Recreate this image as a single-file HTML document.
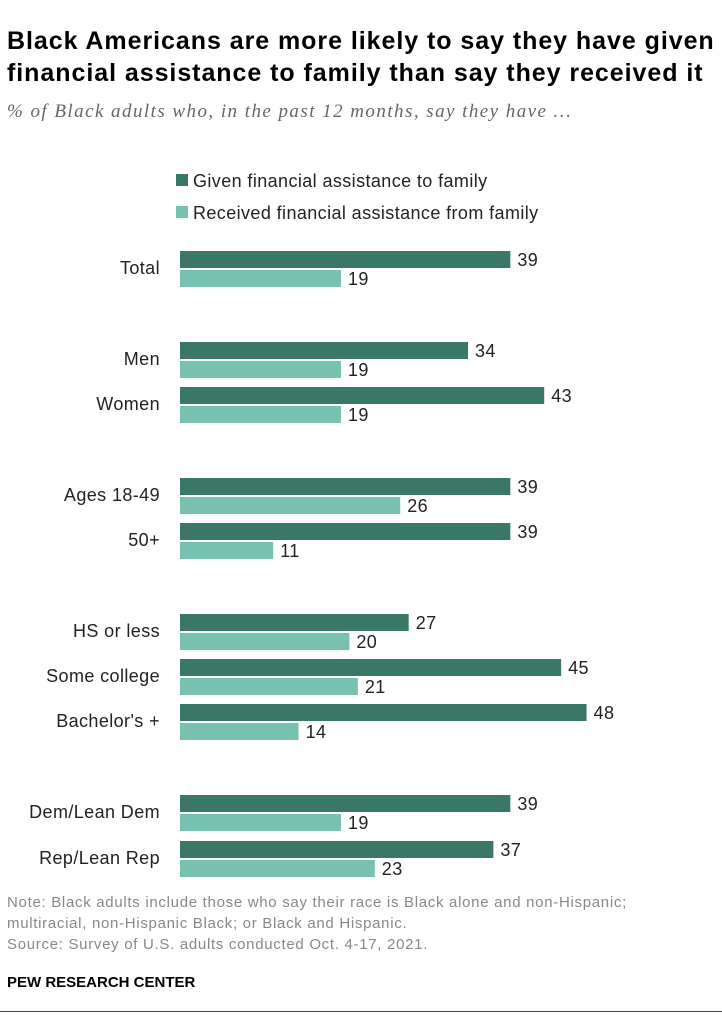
<!DOCTYPE html>
<html><head><meta charset="utf-8"><style>
body{margin:0;width:722px;height:1024px;background:#fff;font-family:"Liberation Sans",sans-serif;position:relative;overflow:hidden}
.t{position:absolute;left:7px;top:25px;font-size:25px;font-weight:bold;line-height:32px;color:#000;letter-spacing:0.95px;white-space:nowrap}
.s{position:absolute;left:7px;top:101px;font-size:19px;font-style:italic;color:#666;font-family:"Liberation Serif",serif;letter-spacing:1.45px;white-space:nowrap}
.n{position:absolute;left:7px;top:892px;font-size:15px;color:#888;line-height:21px;letter-spacing:0.7px;white-space:nowrap}
.p{position:absolute;left:7px;top:974px;font-size:15px;font-weight:bold;color:#000}
.hr{position:absolute;left:0;top:1011px;width:722px;height:1px;background:#444}
svg text{letter-spacing:0.4px}
</style></head><body>
<div class="t">Black Americans are more likely to say they have given<br>financial assistance to family than say they received it</div>
<div class="s">% of Black adults who, in the past 12 months, say they have …</div>
<svg id="c" width="722" height="1024" style="position:absolute;left:0;top:0"></svg>
<div class="n">Note: Black adults include those who say their race is Black alone and non-Hispanic;<br>multiracial, non-Hispanic Black; or Black and Hispanic.<br>Source: Survey of U.S. adults conducted Oct. 4-17, 2021.</div>
<div class="p">PEW RESEARCH CENTER</div>
<div class="hr"></div>
<script>
const categories=["Total","Men","Women","Ages 18-49","50+","HS or less","Some college","Bachelor's +","Dem/Lean Dem","Rep/Lean Rep"];
const given=[39,34,43,39,39,27,45,48,39,37];
const received=[19,19,19,26,11,20,21,14,19,23];
const rowTops=[251,342,387,478,523,614,659,704,795,841];
const NS="http://www.w3.org/2000/svg";
const svg=document.getElementById('c');
const x0=180,scale=8.47;
const xs=v=>v*scale;
function mk(tag,attrs){const e=document.createElementNS(NS,tag);for(const k in attrs)e.setAttribute(k,attrs[k]);svg.appendChild(e);return e;}
let l1=mk('rect',{x:176,y:174,width:12,height:12,fill:'#3a7767'});


let lt1=mk('text',{x:193,y:187,'font-size':18,fill:'#222','letter-spacing':'0.7'});lt1.textContent='Given financial assistance to family';


let l2=mk('rect',{x:176,y:206,width:12,height:12,fill:'#78c1b0'});


let lt2=mk('text',{x:193,y:219,'font-size':18,fill:'#222','letter-spacing':'0.7'});lt2.textContent='Received financial assistance from family';


categories.forEach((c,i)=>{
 const y=rowTops[i];
 const lab=mk('text',{x:160,y:y+23,'font-size':18,fill:'#222','text-anchor':'end'});lab.textContent=c;
 
 
 const b1=mk('rect',{x:x0,y:y,width:xs(given[i]),height:17,fill:'#3a7767'});
 
 
 const t1=mk('text',{x:x0+xs(given[i])+7,y:y+15,'font-size':18,fill:'#222'});t1.textContent=given[i];
 
 
 const b2=mk('rect',{x:x0,y:y+19,width:xs(received[i]),height:17,fill:'#78c1b0'});
 
 
 const t2=mk('text',{x:x0+xs(received[i])+7,y:y+34,'font-size':18,fill:'#222'});t2.textContent=received[i];
 
 
});
</script>
</body></html>
